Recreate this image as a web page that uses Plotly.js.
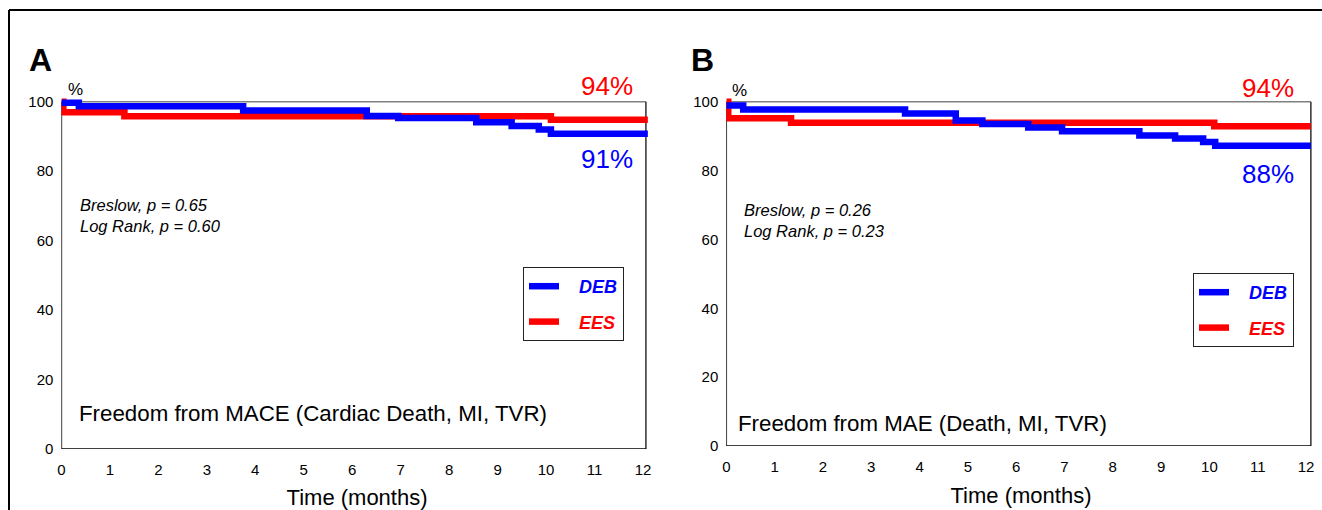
<!DOCTYPE html>
<html>
<head>
<meta charset="utf-8">
<script src="https://cdn.plot.ly/plotly-3.0.1.min.js"></script>
<style>html,body{margin:0;padding:0;background:#fff;}#chart{width:1322px;height:510px;}</style>
</head>
<body>
<div id="chart"></div>
<script>
// ---- data ----
const monthTicks = [0,1,2,3,4,5,6,7,8,9,10,11,12];
const pctTicks = [0,20,40,60,80,100];

// Panel A: Freedom from MACE
const aDebTime = [0, 0.36, 3.75, 6.3, 6.95, 8.56, 9.29, 9.85, 10.1, 12.1];
const aDebSurv = [99.7, 98.7, 97.5, 95.9, 95.3, 94.1, 93.0, 92.0, 90.8, 90.8];
const aEesTime = [0, 0.04, 1.3, 10.1, 12.1];
const aEesSurv = [100, 97.0, 95.8, 94.8, 94.8];

// Panel B: Freedom from MAE
const bDebTime = [0, 0.35, 3.7, 4.75, 5.3, 6.25, 6.95, 8.55, 9.29, 9.87, 10.12, 12.1];
const bDebSurv = [98.9, 97.7, 96.6, 94.5, 93.5, 92.5, 91.4, 90.2, 89.3, 88.3, 87.2, 87.2];
const bEesTime = [0, 0.04, 1.34, 10.1, 12.1];
const bEesSurv = [100, 95.2, 93.9, 92.9, 92.9];

const seriesNames = ['DEB', 'EES'];
const finalLabelsA = ['91%', '94%'];
const finalLabelsB = ['88%', '94%'];
const statsA = ['Breslow, p = 0.65', 'Log Rank, p = 0.60'];
const statsB = ['Breslow, p = 0.26', 'Log Rank, p = 0.23'];
const titleA = 'Freedom from MACE (Cardiac Death, MI, TVR)';
const titleB = 'Freedom from MAE (Death, MI, TVR)';
const xTitle = 'Time (months)';

// ---- styling ----
const BLUE = '#0000FF', RED = '#FF0000';
const FONT = 'Liberation Sans, Arial, Helvetica, sans-serif';
const W = 1322, H = 510;
const px = x => x / W;
const py = y => (H - y) / H;

function legName(name, color) {
  return '&nbsp;&nbsp;&nbsp;<span style="color:' + color + '"><b><i>' + name + '</i></b></span>';
}

const traces = [
  {x: aDebTime, y: aDebSurv, xaxis: 'x', yaxis: 'y', mode: 'lines', line: {shape: 'hv', color: BLUE, width: 6.5},
   name: legName(seriesNames[0], BLUE), legend: 'legend', legendgroup: 'a1', zorder: 2},
  {x: aEesTime, y: aEesSurv, xaxis: 'x', yaxis: 'y', mode: 'lines', line: {shape: 'hv', color: RED, width: 6.5},
   name: legName(seriesNames[1], RED), legend: 'legend', legendgroup: 'a2', zorder: 1},
  {x: bDebTime, y: bDebSurv, xaxis: 'x2', yaxis: 'y2', mode: 'lines', line: {shape: 'hv', color: BLUE, width: 6.5},
   name: legName(seriesNames[0], BLUE), legend: 'legend2', legendgroup: 'b1', zorder: 2},
  {x: bEesTime, y: bEesSurv, xaxis: 'x2', yaxis: 'y2', mode: 'lines', line: {shape: 'hv', color: RED, width: 6.5},
   name: legName(seriesNames[1], RED), legend: 'legend2', legendgroup: 'b2', zorder: 1}
];

function xax(domain, anchor) {
  return {domain: domain, anchor: anchor, range: [0, 12.2], tickvals: monthTicks, ticktext: monthTicks.map(String),
    showgrid: false, zeroline: false, showline: false, ticks: '', ticklabelstandoff: 10,
    tickfont: {family: FONT, size: 15, color: '#000'},
    title: {text: xTitle, font: {family: FONT, size: 22, color: '#000'}, standoff: 13}};
}
function yax(domain, anchor) {
  return {domain: domain, anchor: anchor, range: [0, 102], tickvals: pctTicks, ticktext: pctTicks.map(String),
    showgrid: false, zeroline: false, showline: false, ticks: '', ticklabelstandoff: 7,
    tickfont: {family: FONT, size: 15, color: '#000'}};
}

function box(xr, yr, right) {
  return [
    {type: 'line', xref: xr, yref: yr, x0: 0, x1: right, y0: 100, y1: 100, line: {color: '#808080', width: 1.5}, layer: 'below'},
    {type: 'line', xref: xr, yref: yr, x0: right, x1: right, y0: 0, y1: 100, line: {color: '#303030', width: 1.5}, layer: 'below'},
    {type: 'line', xref: xr, yref: yr, x0: 0, x1: 0, y0: 0, y1: 100, line: {color: '#000', width: 1.5}, layer: 'below'},
    {type: 'line', xref: xr, yref: yr, x0: 0, x1: right, y0: 0, y1: 0, line: {color: '#000', width: 1.5}, layer: 'below'}
  ];
}

const shapes = [].concat(
  box('x', 'y', 12.06),
  box('x2', 'y2', 12.1),
  [
    {type: 'line', xref: 'paper', yref: 'paper', x0: px(9), x1: 1, y0: py(10), y1: py(10), line: {color: '#000', width: 2}},
    {type: 'line', xref: 'paper', yref: 'paper', x0: px(9), x1: px(9), y0: py(10), y1: 0, line: {color: '#000', width: 2}}
  ]
);

function ann(text, x, y, size, color, xanchor, extra) {
  return Object.assign({text: text, xref: 'paper', yref: 'paper', x: px(x), y: py(y), xanchor: xanchor, yanchor: 'middle',
    showarrow: false, font: {family: FONT, size: size, color: color}}, extra || {});
}

const annotations = [
  ann('<b>A</b>', 27, 60, 32, '#000', 'left'),
  ann('<b>B</b>', 689, 60, 32, '#000', 'left'),
  ann('%', 75, 89, 17, '#000', 'center'),
  ann('%', 739, 90, 17, '#000', 'center'),
  ann(finalLabelsA[1], 607, 86, 26, RED, 'center'),
  ann(finalLabelsA[0], 607, 159, 26, BLUE, 'center'),
  ann(finalLabelsB[1], 1268, 88, 26, RED, 'center'),
  ann(finalLabelsB[0], 1268, 174, 26, BLUE, 'center'),
  ann('<i>' + statsA[0] + '</i>', 78, 205, 16.5, '#000', 'left'),
  ann('<i>' + statsA[1] + '</i>', 78, 226, 16.5, '#000', 'left'),
  ann('<i>' + statsB[0] + '</i>', 742, 210, 16.5, '#000', 'left'),
  ann('<i>' + statsB[1] + '</i>', 742, 231, 16.5, '#000', 'left'),
  ann(titleA, 77, 413, 22.3, '#000', 'left'),
  ann(titleB, 736, 424, 22.3, '#000', 'left')
];

function leg(x, y) {
  return {x: px(x), y: py(y), xanchor: 'left', yanchor: 'top', bgcolor: '#fff', bordercolor: '#222', borderwidth: 1,
    font: {family: FONT, size: 18}, traceorder: 'grouped', tracegroupgap: 9, itemclick: false};
}

const layout = {
  width: W, height: H,
  margin: {l: 0, r: 0, t: 0, b: 0},
  paper_bgcolor: '#fff', plot_bgcolor: 'rgba(0,0,0,0)',
  showlegend: true,
  xaxis: xax([px(61.4), px(652.7)], 'y'),
  yaxis: yax([py(449), py(94.8)], 'x'),
  xaxis2: xax([px(726.3), px(1315.7)], 'y2'),
  yaxis2: yax([py(446), py(94.8)], 'x2'),
  legend: leg(523, 267),
  legend2: leg(1193, 273),
  shapes: shapes,
  annotations: annotations
};

Plotly.newPlot('chart', traces, layout, {displayModeBar: false, staticPlot: true});
</script>
</body>
</html>
